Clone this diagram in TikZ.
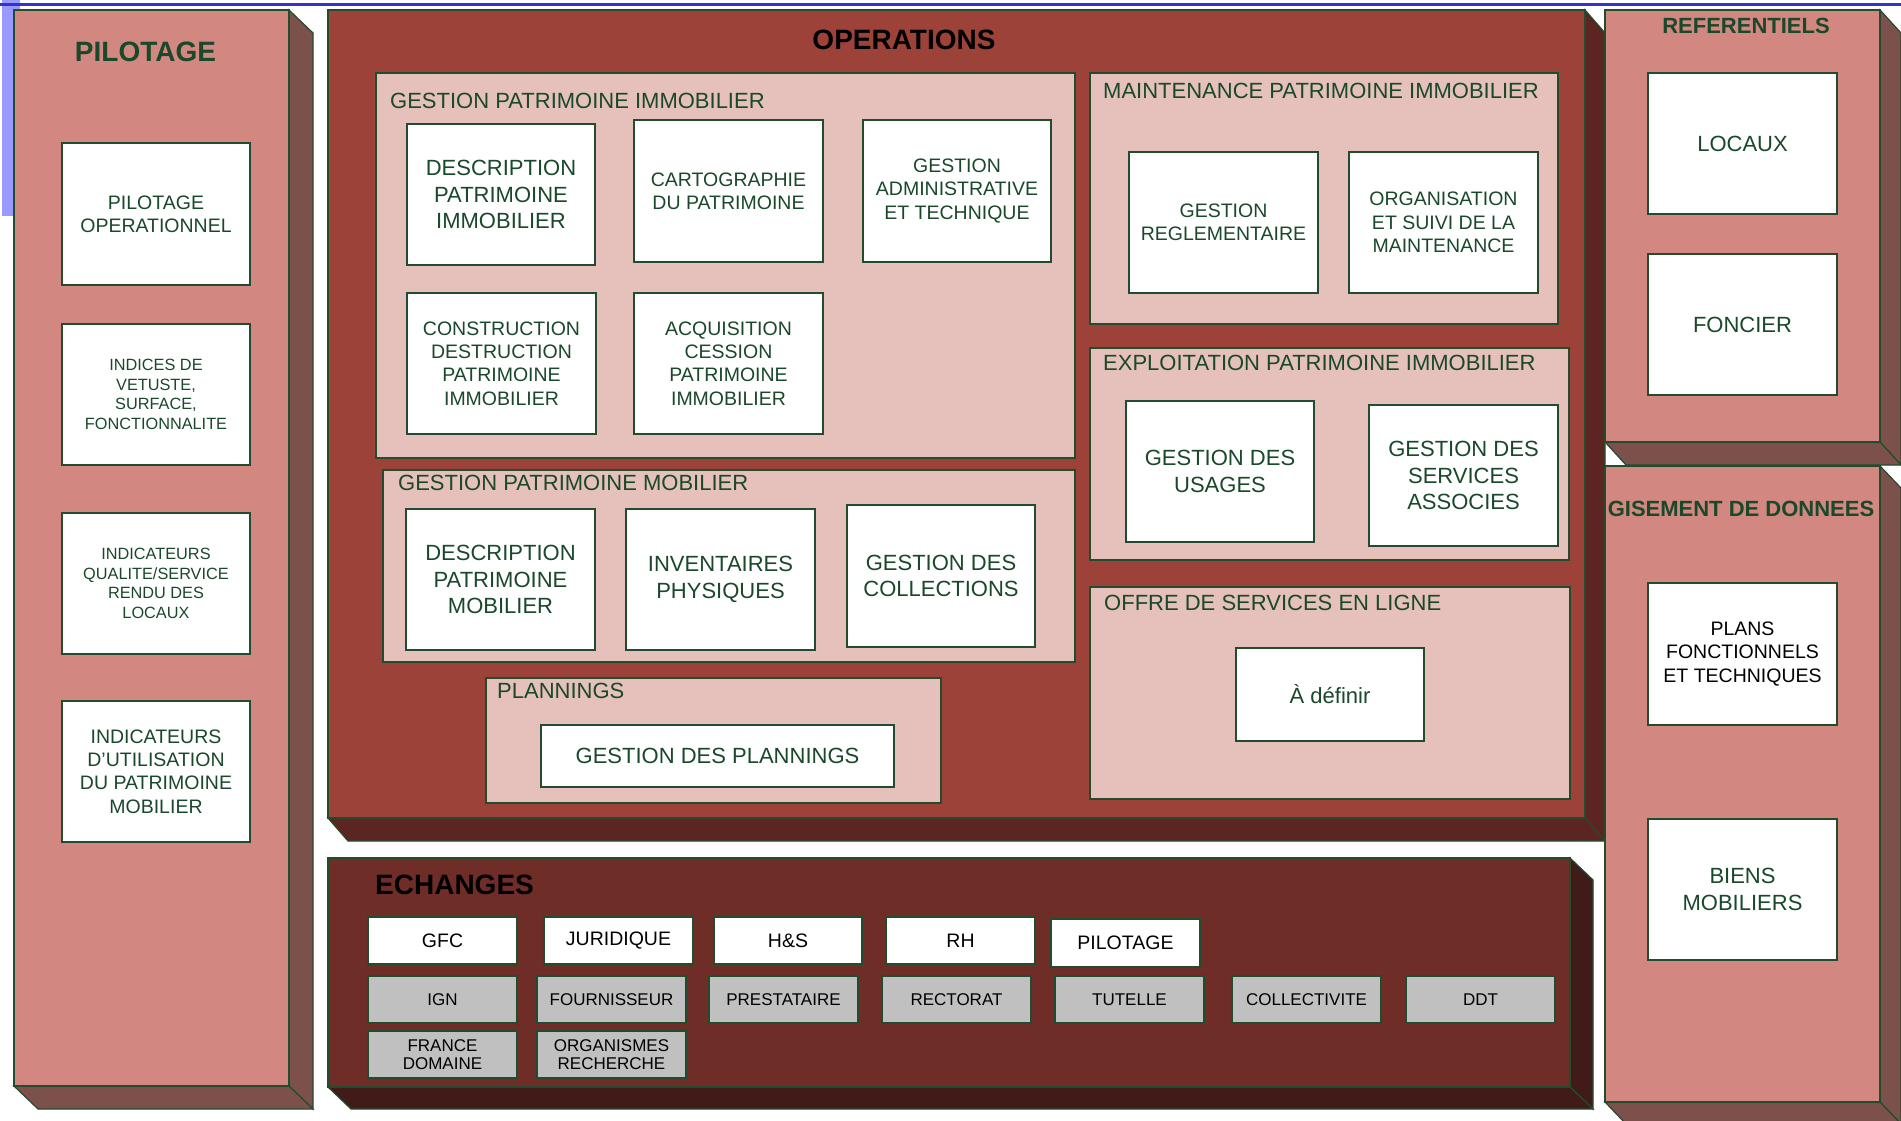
\documentclass[tikz,border=0pt]{standalone}
\usepackage{fontspec}
\setmainfont{Liberation Sans}
\definecolor{pilFront}{RGB}{210,135,128}
\definecolor{pilSide}{RGB}{125,81,75}
\definecolor{opFront}{RGB}{157,66,57}
\definecolor{opSide}{RGB}{92,37,33}
\definecolor{exFront}{RGB}{110,45,39}
\definecolor{exSide}{RGB}{64,27,23}
\definecolor{pinkbox}{RGB}{230,192,187}
\definecolor{greybox}{RGB}{192,192,192}
\definecolor{edgec}{RGB}{35,75,45}
\definecolor{txtc}{RGB}{25,72,42}
\definecolor{blueline}{RGB}{51,51,204}
\definecolor{bluerect}{RGB}{153,153,255}
\newcommand\szA{\fontsize{22}{26.4}\selectfont}
\newcommand\szB{\fontsize{19.5}{23.4}\selectfont}
\newcommand\szC{\fontsize{16.3}{19.6}\selectfont}
\newcommand\szD{\fontsize{17}{18.7}\selectfont}
\newcommand\szT{\fontsize{28}{33.6}\selectfont\bfseries}
\newcommand\szS{\fontsize{22}{26.4}\selectfont\bfseries}
% L T R B dx dy front side
\newcommand\cub[8]{%
  \filldraw[fill=#8, draw=edgec, line width=1.2pt] (#3,#2) -- ({#3+#5},{#2+#6}) -- ({#3+#5},{#4+#6}) -- (#3,#4) -- cycle;
  \filldraw[fill=#8, draw=edgec, line width=1.2pt] (#1,#4) -- (#3,#4) -- ({#3+#5},{#4+#6}) -- ({#1+#5},{#4+#6}) -- cycle;
  \filldraw[fill=#7, draw=edgec, line width=1.2pt] (#1,#2) rectangle (#3,#4);
}
% name style x1 y1 x2 y2 text
\newcommand\bx[7]{\node[#2, minimum width={#5-#3}, minimum height={#6-#4}] (#1) at ({(#3+#5)/2},{(#4+#6)/2}) {#7};}
\tikzset{
  base/.style={draw=edgec, line width=1.1pt, inner sep=0pt, outer sep=0pt, align=center},
  pinkgrp/.style={base, fill=pinkbox},
  wbox/.style={base, fill=white, text=txtc, font=\szB},
  wboxL/.style={base, fill=white, text=txtc, font=\szA},
  wboxS/.style={base, fill=white, text=txtc, font=\szC},
  ebox/.style={base, fill=white, text=black, font=\szB},
  gbox/.style={base, fill=greybox, text=black, font=\szD},
  grptitle/.style={anchor=west, inner sep=0pt, text=txtc, font=\szA},
  bigtitle/.style={inner sep=0pt, font=\szT},
  sidetitle/.style={inner sep=0pt, text=txtc, font=\szS},
}
\begin{document}
\begin{tikzpicture}[x=1pt, y=-1pt]
\useasboundingbox (0,0) rectangle (1901,1120);
\fill[white] (0,0) rectangle (1901,1120);
% blue marks
\fill[bluerect] (2,0) rectangle (20,216);
\draw[blueline, line width=2.4pt] (0,4.5) -- (1901,4.5);

% 3D blocks
\cub{14}{10}{289}{1086}{24}{23}{pilFront}{pilSide}
\cub{328}{10}{1585}{818}{20}{23}{opFront}{opSide}
\cub{328}{858}{1570}{1087}{23}{22}{exFront}{exSide}
\cub{1605}{10}{1880}{442}{21}{23}{pilFront}{pilSide}
\cub{1605}{466}{1880}{1102}{21}{22}{pilFront}{pilSide}

% PILOTAGE
\node[sidetitle, font=\szT] (tpil) at (145.5,52) {PILOTAGE};
\bx{p1}{wbox}{62}{143}{250}{285}{PILOTAGE\\OPERATIONNEL}
\bx{p2}{wboxS}{62}{324}{250}{465}{INDICES DE\\VETUSTE,\\SURFACE,\\FONCTIONNALITE}
\bx{p3}{wboxS}{62}{513}{250}{654}{INDICATEURS\\QUALITE/SERVICE\\RENDU DES\\LOCAUX}
\bx{p4}{wbox}{62}{701}{250}{842}{INDICATEURS\\D’UTILISATION\\DU PATRIMOINE\\MOBILIER}

% OPERATIONS
\node[bigtitle] (tops) at (904,40) {OPERATIONS};

\bx{gpi}{pinkgrp}{376}{73}{1075}{458}{}
\node[grptitle] (tgpi) at (390,101) {GESTION PATRIMOINE IMMOBILIER};
\bx{dpi}{wboxL}{407}{124}{595}{265}{DESCRIPTION\\PATRIMOINE\\IMMOBILIER}
\bx{carto}{wbox}{634}{120}{823}{262}{CARTOGRAPHIE\\DU PATRIMOINE}
\bx{gat}{wbox}{863}{120}{1051}{262}{GESTION\\ADMINISTRATIVE\\ET TECHNIQUE}
\bx{cons}{wbox}{407}{293}{596}{434}{CONSTRUCTION\\DESTRUCTION\\PATRIMOINE\\IMMOBILIER}
\bx{acq}{wbox}{634}{293}{823}{434}{ACQUISITION\\CESSION\\PATRIMOINE\\IMMOBILIER}

\bx{gpm}{pinkgrp}{383}{470}{1075}{662}{}
\node[grptitle] (tgpm) at (398,483) {GESTION PATRIMOINE MOBILIER};
\bx{dpm}{wboxL}{406}{509}{595}{650}{DESCRIPTION\\PATRIMOINE\\MOBILIER}
\bx{inv}{wboxL}{626}{509}{815}{650}{INVENTAIRES\\PHYSIQUES}
\bx{coll}{wboxL}{847}{505}{1035}{647}{GESTION DES\\COLLECTIONS}

\bx{plan}{pinkgrp}{486}{678}{941}{803}{}
\node[grptitle] (tplan) at (497,691) {PLANNINGS};
\bx{gplan}{wboxL}{541}{725}{894}{787}{GESTION DES PLANNINGS}

\bx{maint}{pinkgrp}{1090}{73}{1558}{324}{}
\node[grptitle] (tmaint) at (1103,91) {MAINTENANCE PATRIMOINE IMMOBILIER};
\bx{regl}{wbox}{1129}{152}{1318}{293}{GESTION\\REGLEMENTAIRE}
\bx{orga}{wbox}{1349}{152}{1538}{293}{ORGANISATION\\ET SUIVI DE LA\\MAINTENANCE}

\bx{expl}{pinkgrp}{1090}{348}{1569}{560}{}
\node[grptitle] (texpl) at (1103,363) {EXPLOITATION PATRIMOINE IMMOBILIER};
\bx{usag}{wboxL}{1126}{401}{1314}{542}{GESTION DES\\USAGES}
\bx{serv}{wboxL}{1369}{405}{1558}{546}{GESTION DES\\SERVICES\\ASSOCIES}

\bx{offre}{pinkgrp}{1090}{587}{1570}{799}{}
\node[grptitle] (toffre) at (1104,603) {OFFRE DE SERVICES EN LIGNE};
\bx{adef}{wboxL}{1236}{648}{1424}{741}{À définir}

% REFERENTIELS
\node[sidetitle] (tref) at (1746,26) {REFERENTIELS};
\bx{loc}{wboxL}{1648}{73}{1837}{214}{LOCAUX}
\bx{fonc}{wboxL}{1648}{254}{1837}{395}{FONCIER}

% GISEMENT
\node[sidetitle] (tgis) at (1741,509) {GISEMENT DE DONNEES};
\bx{plans}{wbox, text=black}{1648}{583}{1837}{725}{PLANS\\FONCTIONNELS\\ET TECHNIQUES}
\bx{biens}{wboxL}{1648}{819}{1837}{960}{BIENS\\MOBILIERS}

% ECHANGES
\node[bigtitle, anchor=west] (tech) at (375,885) {ECHANGES};
\bx{gfc}{ebox}{368}{917}{517}{964}{GFC}
\bx{jur}{ebox}{544}{917}{693}{964}{JURIDIQUE}
\bx{hs}{ebox}{714}{917}{862}{964}{H\&S}
\bx{rh}{ebox}{886}{917}{1035}{964}{RH}
\bx{pil}{ebox}{1051}{919}{1200}{967}{PILOTAGE}
\bx{ign}{gbox}{368}{976}{517}{1023}{IGN}
\bx{four}{gbox}{537}{976}{686}{1023}{FOURNISSEUR}
\bx{prest}{gbox}{709}{976}{858}{1023}{PRESTATAIRE}
\bx{rect}{gbox}{882}{976}{1031}{1023}{RECTORAT}
\bx{tut}{gbox}{1055}{976}{1204}{1023}{TUTELLE}
\bx{colle}{gbox}{1232}{976}{1381}{1023}{COLLECTIVITE}
\bx{ddt}{gbox}{1406}{976}{1555}{1023}{DDT}
\bx{fdom}{gbox}{368}{1031}{517}{1078}{FRANCE\\DOMAINE}
\bx{orgr}{gbox}{537}{1031}{686}{1078}{ORGANISMES\\RECHERCHE}
\end{tikzpicture}
\end{document}
